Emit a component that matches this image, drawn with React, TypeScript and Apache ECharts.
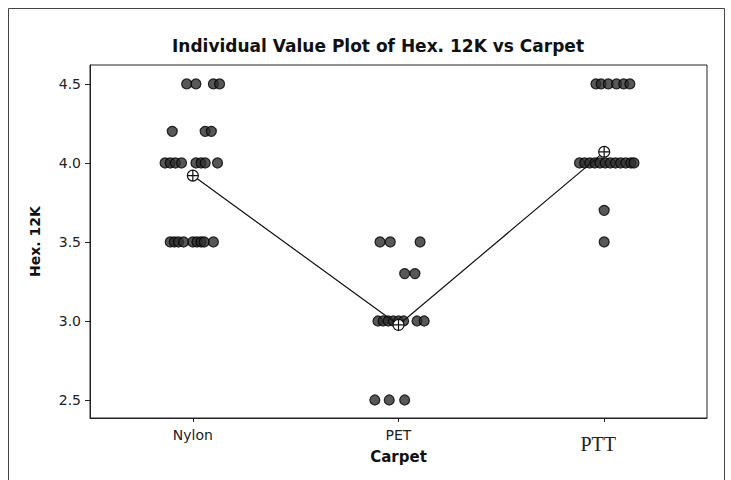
import React, { useEffect, useRef } from "react";
import * as echarts from "echarts";

const categories = ["Nylon", "PET", "PTT"];
const yTicks = [2.5, 3.0, 3.5, 4.0, 4.5];

// Individual values per carpet type, with their horizontal jitter (category units)
const nylonValues = [4.5, 4.5, 4.5, 4.5, 4.2, 4.2, 4.2, 4.0, 4.0, 4.0, 4.0, 4.0, 4.0, 4.0, 4.0, 3.5, 3.5, 3.5, 3.5, 3.5, 3.5, 3.5, 3.5, 3.5];
const nylonJitter = [-0.03, 0.015, 0.1, 0.13, -0.1, 0.06, 0.09, -0.135, -0.11, -0.085, -0.055, 0.015, 0.04, 0.06, 0.12, -0.11, -0.09, -0.07, -0.045, 0.0, 0.02, 0.04, 0.055, 0.1];

const petValues = [3.5, 3.5, 3.5, 3.3, 3.3, 3.0, 3.0, 3.0, 3.0, 3.0, 3.0, 3.0, 3.0, 2.5, 2.5, 2.5];
const petJitter = [-0.09, -0.04, 0.105, 0.03, 0.08, -0.1, -0.075, -0.05, -0.025, 0.0, 0.025, 0.09, 0.125, -0.115, -0.045, 0.03];

const pttValues = [4.5, 4.5, 4.5, 4.5, 4.5, 4.5, 4.0, 4.0, 4.0, 4.0, 4.0, 4.0, 4.0, 4.0, 4.0, 4.0, 4.0, 4.0, 3.7, 3.5];
const pttJitter = [-0.04, -0.015, 0.02, 0.06, 0.095, 0.125, -0.12, -0.095, -0.07, -0.045, -0.02, 0.005, 0.03, 0.055, 0.08, 0.105, 0.13, 0.145, 0.0, 0.0];

const meanValues = [3.92, 2.975, 4.07];

const meanSymbol =
  "path://M10,0 A10,10 0 1,1 10,20 A10,10 0 1,1 10,0 Z M0,10 L20,10 M10,0 L10,20";

export default function App() {
  const ref = useRef<HTMLDivElement>(null);

  useEffect(() => {
    if (!ref.current) return;
    const chart = echarts.init(ref.current, undefined, { renderer: "svg" });

    const groups = [
      { values: nylonValues, jitter: nylonJitter },
      { values: petValues, jitter: petJitter },
      { values: pttValues, jitter: pttJitter },
    ];
    const points: number[][] = [];
    groups.forEach((g, gi) => {
      g.values.forEach((v, i) => points.push([gi + 1 + g.jitter[i], v]));
    });
    const means = meanValues.map((m, i) => [i + 1, m]);

    const sans = "DejaVu Sans, Verdana, sans-serif";

    chart.setOption({
      animation: false,
      backgroundColor: "#fff",
      title: {
        text: "Individual Value Plot of Hex. 12K vs Carpet",
        left: 373,
        textAlign: "center",
        top: 32,
        textStyle: { fontFamily: sans, fontWeight: "bold", fontSize: 17, color: "#111" },
      },
      graphic: [
        {
          type: "rect",
          shape: { x: 8.5, y: 8.5, width: 716, height: 490 },
          style: { fill: "none", stroke: "#444", lineWidth: 1 },
          silent: true,
        },
      ],
      grid: {
        left: 90,
        top: 65,
        right: 24,
        bottom: 62,
        show: true,
        borderColor: "#222",
        borderWidth: 1,
        backgroundColor: "transparent",
      },
      xAxis: {
        type: "value",
        min: 0.5,
        max: 3.5,
        name: "Carpet",
        nameLocation: "middle",
        nameGap: 31,
        nameMoveOverlap: false,
        nameTextStyle: { fontFamily: sans, fontWeight: "bold", fontSize: 15, color: "#111" },
        axisLine: { show: true, lineStyle: { color: "#222", width: 1 } },
        axisTick: { show: true, length: 4, customValues: [1, 2, 3], lineStyle: { color: "#222" } },
        splitLine: { show: false },
        axisLabel: {
          customValues: [1, 2, 3],
          margin: 10,
          formatter: (v: number) => {
            const name = categories[Math.round(v) - 1];
            return name === "PTT" ? "{serif|" + name + "}" : "{sans|" + name + "}";
          },
          rich: {
            sans: { fontFamily: sans, fontSize: 14, color: "#222" },
            serif: { fontFamily: "Liberation Serif, Times New Roman, serif", fontSize: 20, color: "#222", padding: [6, 12, 0, 0] },
          },
        },
      },
      yAxis: {
        type: "value",
        min: 2.386,
        max: 4.62,
        name: "Hex. 12K",
        nameLocation: "middle",
        nameGap: 48,
        nameMoveOverlap: false,
        nameTextStyle: { fontFamily: sans, fontWeight: "bold", fontSize: 14, color: "#111" },
        axisLine: { show: true, lineStyle: { color: "#222", width: 1 } },
        axisTick: { show: true, length: 5, customValues: yTicks, lineStyle: { color: "#222" } },
        splitLine: { show: false },
        axisLabel: {
          customValues: yTicks,
          margin: 9,
          fontFamily: sans,
          fontSize: 14,
          color: "#222",
          formatter: (v: number) => v.toFixed(1),
        },
      },
      series: [
        {
          type: "scatter",
          data: points,
          symbol: "circle",
          symbolSize: 10,
          itemStyle: { color: "#2e2e2e", borderColor: "#000", borderWidth: 1.2 },
          z: 2,
        },
        {
          type: "line",
          data: means,
          symbol: meanSymbol,
          symbolSize: 11,
          showSymbol: true,
          lineStyle: { color: "#111", width: 1.2 },
          itemStyle: { color: "#fff", borderColor: "#111", borderWidth: 1.2 },
          z: 3,
        },
      ],
    });

    return () => chart.dispose();
  }, []);

  return (
    <div
      ref={ref}
      style={{ position: "absolute", left: 0, top: 0, width: 731, height: 480 }}
    />
  );
}
